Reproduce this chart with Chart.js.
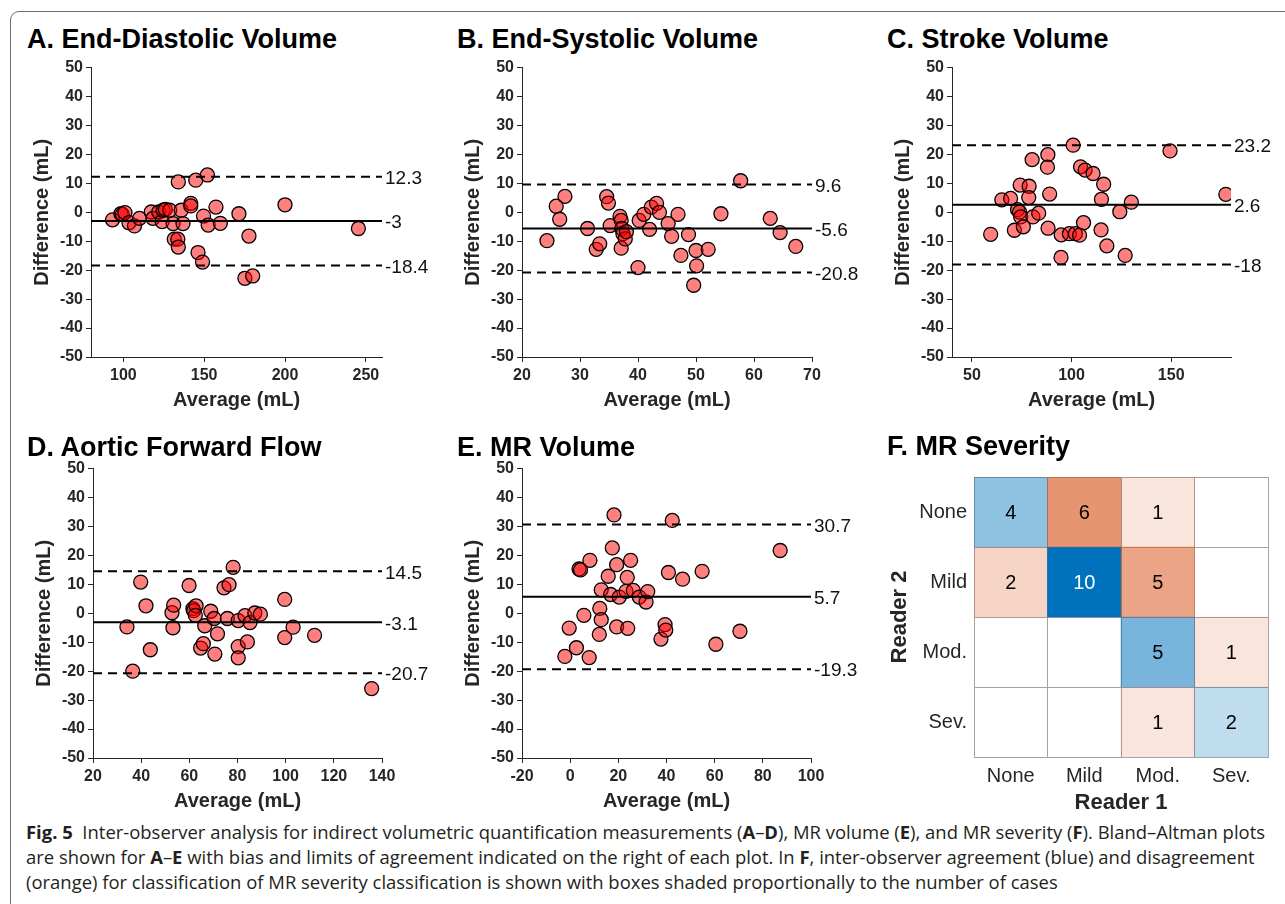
<!DOCTYPE html>
<html>
<head>
<meta charset="utf-8">
<script src="https://cdn.jsdelivr.net/npm/chart.js@4.4.0/dist/chart.umd.min.js"></script>
<style>
  body { margin: 0; width: 1285px; height: 904px; overflow: hidden; background: #fff; position: relative;
         font-family: "Liberation Sans", Arial, Helvetica, sans-serif; }
  .frame { position: absolute; left: 10px; top: 11px; width: 1400px; height: 1000px;
           border: 1px solid #6e6e6e; border-radius: 9px; }
  canvas { position: absolute; }
  .title { position: absolute; font-weight: bold; font-size: 27px; line-height: 1; color: #000; white-space: nowrap; }
  .caption { position: absolute; left: 26px; top: 820px; font-family: "Open Sans", "Noto Sans", sans-serif;
             font-size: 18px; line-height: 25px; color: #231f20; white-space: nowrap; transform-origin: 0 0; }
</style>
</head>
<body>
<div class="frame"></div>

<canvas id="edv" width="421" height="361" style="left:26px;top:55px"></canvas>
<canvas id="esv" width="420" height="361" style="left:457px;top:55px"></canvas>
<canvas id="sv" width="409" height="361" style="left:887px;top:55px"></canvas>
<canvas id="aff" width="419" height="361" style="left:28px;top:456px"></canvas>
<canvas id="mrv" width="419" height="361" style="left:457px;top:456px"></canvas>
<canvas id="sev" width="397" height="362" style="left:883px;top:458px"></canvas>

<div class="title" style="left:27px;top:26px">A. End-Diastolic Volume</div>
<div class="title" style="left:457px;top:26px">B. End-Systolic Volume</div>
<div class="title" style="left:887px;top:26px">C. Stroke Volume</div>
<div class="title" style="left:27px;top:434px">D. Aortic Forward Flow</div>
<div class="title" style="left:457px;top:434px">E. MR Volume</div>
<div class="title" style="left:887px;top:433px">F. MR Severity</div>

<div class="caption" id="caption">
  <span id="capLine1"><b>Fig. 5</b>&nbsp; Inter-observer analysis for indirect volumetric quantification measurements (<b>A</b>–<b>D</b>), MR volume (<b>E</b>), and MR severity (<b>F</b>). Bland–Altman plots</span><br>
  are shown for <b>A</b>–<b>E</b> with bias and limits of agreement indicated on the right of each plot. In <b>F</b>, inter-observer agreement (blue) and disagreement<br>
  (orange) for classification of MR severity classification is shown with boxes shaded proportionally to the number of cases
</div>

<script>
// shared y ticks for the Bland-Altman plots
const yTicks = [-50, -40, -30, -20, -10, 0, 10, 20, 30, 40, 50];

// A. End-diastolic volume
const edvAvg = [93.3, 98.5, 99.4, 101, 103.5, 106.9, 110, 117.3, 118.3, 121.9, 124, 124.6, 126, 128.7, 130.8, 131.5, 133.7, 134, 134, 135.8, 136.9, 141.7, 141.7, 144.8, 146.2, 149, 149.6, 152, 152.5, 157.3, 160, 171.5, 175.2, 177.7, 180, 200, 245.4];
const edvDiff = [-2.6, -0.5, -0.7, -0.1, -3.6, -4.7, -2.1, 0.1, -2.1, 0.1, -3.2, 0.7, 1, 0.7, -3.9, -9.3, -9.3, -12, 10.5, 0.7, -3.9, 3.1, 2.2, 11.1, -13.9, -17.2, -1.3, 12.9, -4.4, 1.8, -3.8, -0.5, -22.8, -8.2, -22, 2.6, -5.6];
const edvLimits = [12.3, -3, -18.4];
const edvRange = [80, 260];
const edvTicks = [100, 150, 200, 250];

// B. End-systolic volume
const esvAvg = [24.3, 25.9, 26.5, 27.4, 31.3, 32.8, 33.4, 34.6, 34.9, 35.2, 36.9, 37.1, 37.2, 37.1, 37.4, 37.8, 38, 40, 40.2, 41, 42, 42.3, 43.2, 43.7, 45.2, 45.8, 46.9, 47.4, 48.7, 49.6, 50, 50.1, 52.1, 54.3, 57.7, 62.8, 64.5, 67.2];
const esvDiff = [-9.8, 2.1, -2.4, 5.5, -5.6, -12.8, -10.9, 5.4, 3.2, -4.6, -1.4, -2.8, -5.6, -12.4, -7.4, -9.2, -6.7, -19.1, -2.8, -0.7, -5.9, 1.8, 3.1, 0, -3.9, -8.3, -0.7, -14.9, -7.7, -25.2, -13.2, -18.5, -12.8, -0.5, 10.9, -2.1, -7, -11.8];
const esvLimits = [9.6, -5.6, -20.8];
const esvRange = [20, 70];
const esvTicks = [20, 30, 40, 50, 60, 70];

// C. Stroke volume
const svAvg = [59.4, 65, 69.4, 71.3, 72.9, 73.9, 74.2, 74.5, 75.8, 78.7, 78.5, 80.2, 80.6, 83.5, 88.1, 87.9, 88.2, 89, 94.7, 94.8, 98.9, 100.8, 101.9, 104, 104.5, 106.8, 106, 110.8, 114.8, 115, 116.1, 117.7, 124.2, 126.9, 130, 149.4, 177.4];
const svDiff = [-7.6, 4.3, 4.8, -6.2, 0.9, 0.1, 9.4, -1.6, -5, 9, 5.1, 18.2, -1.6, -0.3, 19.9, 15.6, -5.5, 6.3, -15.6, -7.8, -7.4, 23.2, -7.4, -7.9, 15.7, 14.6, -3.6, 13.4, -6.1, 4.5, 9.7, -11.6, 0.2, -14.9, 3.5, 21.2, 6.2];
const svLimits = [23.2, 2.6, -18];
const svRange = [40, 180];
const svTicks = [50, 100, 150];

// D. Aortic forward flow
const affAvg = [34.1, 36.5, 39.8, 42, 43.8, 52.8, 53.5, 53.2, 59.9, 61.5, 61.8, 62.8, 62.5, 64.7, 65.8, 66.4, 68.9, 70.3, 70.6, 71.7, 74.4, 75.8, 76.5, 78.2, 80.3, 80.3, 80.3, 83.1, 84.1, 85.2, 87.2, 89.5, 99.6, 99.6, 103.1, 112, 135.7];
const affDiff = [-4.7, -20, 10.8, 2.6, -12.6, 0.2, 2.8, -5, 9.6, 1.6, 0.9, 2.6, -0.7, -12, -10.5, -4.3, 0.7, -1.8, -14.1, -7.1, 8.8, -1.8, 9.9, 15.9, -2.5, -11.5, -15.4, -0.8, -9.9, -3.2, 0.1, -0.3, 4.8, -8.4, -4.8, -7.6, -26];
const affLimits = [14.5, -3.1, -20.7];
const affRange = [20, 140];
const affTicks = [20, 40, 60, 80, 100, 120, 140];

// E. MR volume
const mrvAvg = [-2.2, -0.4, 2.6, 3.7, 4.3, 5.7, 7.9, 8.2, 12.3, 12.9, 12.1, 12.9, 15.8, 16.8, 17.5, 18.2, 19.3, 19.3, 20.4, 23.2, 23.7, 23.9, 25.1, 26.2, 28.7, 31.5, 32.2, 37.7, 39.4, 39.7, 40.8, 42.4, 46.7, 54.8, 60.5, 70.5, 87.2];
const mrvDiff = [-14.9, -5.1, -11.9, 15.3, 15, -0.7, -15.3, 18.3, 1.7, -2.2, -7.3, 8.1, 12.8, 6.5, 22.6, 34, 16.8, -4.7, 5.6, 7.6, 12.4, -5.2, 18.3, 7.9, 5.6, 3.9, 7.5, -8.9, -3.9, -5.8, 14.1, 32.1, 11.8, 14.5, -10.7, -6.2, 21.7];
const mrvLimits = [30.7, 5.7, -19.3];
const mrvRange = [-20, 100];
const mrvTicks = [-20, 0, 20, 40, 60, 80, 100];

// F. MR severity, rows = Reader 2, columns = Reader 1
const severity = ['None', 'Mild', 'Mod.', 'Sev.'];
const reader2None = [4, 6, 1, 0];
const reader2Mild = [2, 10, 5, 0];
const reader2Mod = [0, 0, 5, 1];
const reader2Sev = [0, 0, 1, 2];
const severityCounts = [reader2None, reader2Mild, reader2Mod, reader2Sev];

Chart.defaults.font.family = '"Liberation Sans", Arial, Helvetica, sans-serif';
Chart.defaults.animation = false;
const ink = '#262626';

// writes the bias / limit values to the right of the plot
const limitLabels = {
    id: 'limitLabels',
    afterDraw(chart, args, opts) {
        const { ctx, chartArea, scales: { y } } = chart;
        ctx.save();
        ctx.font = '19px "Liberation Sans", Arial, sans-serif';
        ctx.fillStyle = '#111';
        ctx.textBaseline = 'middle';
        ctx.textAlign = 'left';
        opts.values.forEach(v => ctx.fillText(String(v), chartArea.right + 3, y.getPixelForValue(v) + 2));
        ctx.restore();
    }
};

function blandAltman(id, avg, diff, limits, range, xTicks) {
    const points = avg.map((x, i) => ({ x: x, y: diff[i] }));
    const lines = limits.map((v, i) => ({
        data: range.map(x => ({ x: x, y: v })),
        showLine: true,
        borderColor: '#000',
        borderWidth: 2,
        borderDash: i === 1 ? [] : [9, 6],
        pointRadius: 0
    }));
    return new Chart(document.getElementById(id), {
        type: 'scatter',
        data: {
            datasets: [...lines, {
                data: points,
                backgroundColor: 'rgba(255, 0, 0, 0.5)',
                borderColor: '#000',
                borderWidth: 1.3,
                pointRadius: 7
            }]
        },
        options: {
            responsive: false,
            layout: { padding: { top: 12, right: 65, left: 0, bottom: 0 } },
            plugins: { legend: { display: false }, tooltip: { enabled: false }, limitLabels: { values: limits } },
            scales: {
                x: {
                    type: 'linear', min: range[0], max: range[1],
                    afterBuildTicks: s => { s.ticks = xTicks.map(v => ({ value: v })); },
                    afterFit: s => { s.height = 59; },
                    grid: { drawOnChartArea: false, drawTicks: true, tickLength: 5, color: ink },
                    border: { display: true, color: ink, width: 1 },
                    ticks: { color: ink, font: { size: 16, weight: 'bold' }, padding: 4, maxRotation: 0, autoSkip: false },
                    title: { display: true, text: 'Average (mL)', color: ink, font: { size: 20, weight: 'bold' }, padding: { top: 0, bottom: 4 } }
                },
                y: {
                    type: 'linear', min: -50, max: 50,
                    afterBuildTicks: s => { s.ticks = yTicks.map(v => ({ value: v })); },
                    afterFit: s => { s.width = 65; },
                    grid: { drawOnChartArea: false, drawTicks: true, tickLength: 5, color: ink },
                    border: { display: true, color: ink, width: 1 },
                    ticks: { color: ink, font: { size: 16, weight: 'bold' }, padding: 3, autoSkip: false },
                    title: { display: true, text: 'Difference (mL)', color: ink, font: { size: 20, weight: 'bold' }, padding: { top: 4, bottom: 0 } }
                }
            }
        },
        plugins: [limitLabels]
    });
}

blandAltman('edv', edvAvg, edvDiff, edvLimits, edvRange, edvTicks);
blandAltman('esv', esvAvg, esvDiff, esvLimits, esvRange, esvTicks);
blandAltman('sv', svAvg, svDiff, svLimits, svRange, svTicks);
blandAltman('aff', affAvg, affDiff, affLimits, affRange, affTicks);
blandAltman('mrv', mrvAvg, mrvDiff, mrvLimits, mrvRange, mrvTicks);

// shade: blue where the readers agree, orange where they differ
function cellColor(n, r, c) {
    if (!n) return 'rgba(0,0,0,0)';
    const a = Math.min(1, 0.06 + 0.094 * n);
    return r === c ? `rgba(0, 114, 189, ${a})` : `rgba(217, 83, 25, ${a})`;
}

const cellText = {
    id: 'cellText',
    afterDatasetsDraw(chart) {
        const ctx = chart.ctx;
        ctx.save();
        ctx.font = '20px "Liberation Sans", Arial, sans-serif';
        ctx.textAlign = 'center';
        ctx.textBaseline = 'middle';
        chart.data.datasets.forEach((ds, r) => {
            chart.getDatasetMeta(r).data.forEach((bar, c) => {
                const n = ds.counts[c];
                if (!n) return;
                ctx.fillStyle = n > 7 ? '#fff' : '#000';
                ctx.fillText(String(n), bar.x, (bar.y + bar.base) / 2 + 1);
            });
        });
        ctx.restore();
    }
};

new Chart(document.getElementById('sev'), {
    type: 'bar',
    data: {
        labels: severity,
        datasets: severityCounts.map((row, r) => ({
            data: row.map(() => [r, r + 1]),
            counts: row,
            backgroundColor: row.map((n, c) => cellColor(n, r, c)),
            borderWidth: 0,
            grouped: false,
            barPercentage: 1,
            categoryPercentage: 1
        }))
    },
    options: {
        responsive: false,
        layout: { padding: { top: 10, right: 12, left: 0, bottom: 0 } },
        plugins: { legend: { display: false }, tooltip: { enabled: false } },
        scales: {
            x: {
                type: 'category',
                z: 1,
                afterFit: s => { s.height = 63; },
                grid: { offset: true, drawTicks: false, color: '#a3a3a3' },
                border: { display: true, color: '#a3a3a3' },
                ticks: { color: ink, font: { size: 20 }, padding: 7 },
                title: { display: true, text: 'Reader 1', color: ink, font: { size: 22, weight: 'bold' }, padding: { top: 0, bottom: 4 } }
            },
            y: {
                type: 'linear', min: 0, max: severity.length, reverse: true,
                z: 1,
                afterBuildTicks: s => { s.ticks = severity.map((_, i) => ({ value: i + 0.5 })); },
                afterFit: s => { s.width = 91; },
                grid: { offset: true, drawTicks: false, color: '#a3a3a3' },
                border: { display: true, color: '#a3a3a3' },
                ticks: { color: ink, font: { size: 20 }, padding: 7, callback: (v, i) => severity[i] },
                title: { display: true, text: 'Reader 2', color: ink, font: { size: 22, weight: 'bold' }, padding: { top: 4, bottom: 0 } }
            }
        }
    },
    plugins: [cellText]
});

// squeeze the caption so the first line spans the figure width
const caption = document.getElementById('caption');
const line1 = document.getElementById('capLine1');
caption.style.transform = `scaleX(${1239 / line1.getBoundingClientRect().width})`;
</script>
</body>
</html>
